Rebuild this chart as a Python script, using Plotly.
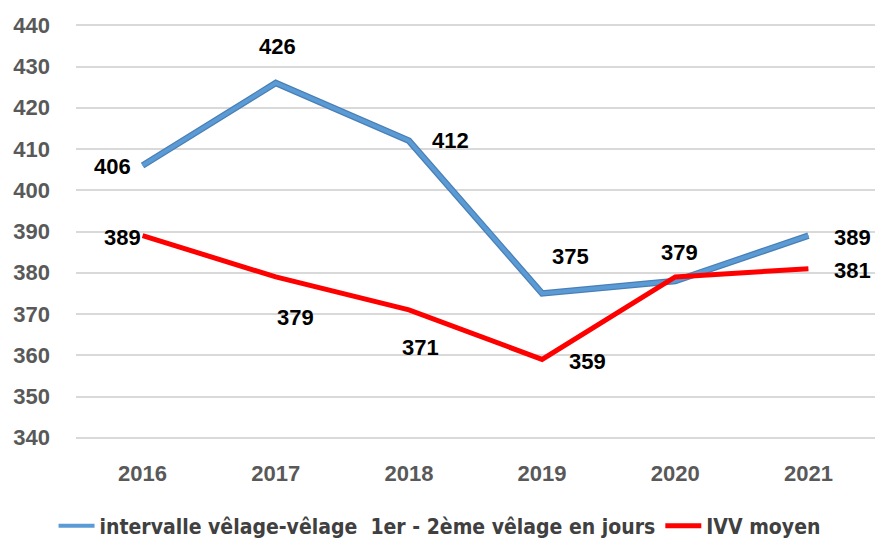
import plotly.graph_objects as go

years = ["2016", "2017", "2018", "2019", "2020", "2021"]
intervalle = [406, 426, 412, 375, 378, 389]
ivv = [389, 379, 371, 359, 379, 381]
y_ticks = [340, 350, 360, 370, 380, 390, 400, 410, 420, 430, 440]

blue_name = "intervalle vêlage-vêlage  1er - 2ème vêlage en jours"
red_name = "IVV moyen"

xi = list(range(len(years)))

fig = go.Figure()
fig.add_trace(go.Scatter(x=xi, y=intervalle, mode="lines",
                         line=dict(color="#4A7FB5", width=6.5),
                         showlegend=False, hoverinfo="skip"))
fig.add_trace(go.Scatter(x=xi, y=intervalle, mode="lines", name=blue_name,
                         line=dict(color="#5B9BD5", width=4)))
fig.add_trace(go.Scatter(x=xi, y=ivv, mode="lines", name=red_name,
                         line=dict(color="#FF0000", width=5)))

lab_font = dict(family="Liberation Sans, Arial, sans-serif", size=22, color="#000000")
blue_pos = [(-30, -1), (2, 37), (42, 0), (28, 37), None, (44, -2)]
red_pos = [(-20, -2), (20, -41), (12, -38), (45, -2), (4, 24), (44, -2)]
for i, p in enumerate(blue_pos):
    if p is None:
        continue
    fig.add_annotation(x=xi[i], y=intervalle[i], text="<b>%d</b>" % intervalle[i],
                       showarrow=False, xshift=p[0], yshift=p[1], font=lab_font)
for i, p in enumerate(red_pos):
    fig.add_annotation(x=xi[i], y=ivv[i], text="<b>%d</b>" % ivv[i],
                       showarrow=False, xshift=p[0], yshift=p[1], font=lab_font)

top, bottom = 17, 92
plot_h = 538 - top - bottom
plot_bottom_px = 538 - bottom
fig.update_layout(
    width=877, height=538,
    margin=dict(l=76, r=2, t=top, b=bottom, autoexpand=False),
    paper_bgcolor="white", plot_bgcolor="white",
    font=dict(family="Liberation Sans, Arial, sans-serif"),
    legend=dict(orientation="h", x=0.455, xanchor="center",
                y=-(526 - plot_bottom_px) / plot_h, yanchor="middle",
                font=dict(family="DejaVu Sans Condensed, Liberation Sans, Arial, sans-serif",
                          size=21, color="#404040", weight="bold"),
                bgcolor="rgba(0,0,0,0)",
                itemwidth=36, tracegroupgap=0),
    showlegend=True,
)
fig.update_xaxes(range=[-0.5, 5.5], tickvals=xi, ticktext=years, automargin=False,
                 showgrid=False, showline=False, zeroline=False,
                 tickfont=dict(size=22, color="#595959", family="Liberation Sans, Arial, sans-serif", weight="bold"),
                 ticklabelstandoff=12, ticks="")
fig.update_yaxes(range=[338, 442], tickvals=y_ticks, showgrid=True, gridcolor="#D9D9D9",
                 gridwidth=2, zeroline=False, showline=False, automargin=False,
                 tickfont=dict(size=22, color="#595959", family="Liberation Sans, Arial, sans-serif", weight="bold"),
                 ticklabelstandoff=25, ticks="")

fig.write_html("out.html", config={"displayModeBar": False},
               post_script="document.body.style.margin='0px';")
